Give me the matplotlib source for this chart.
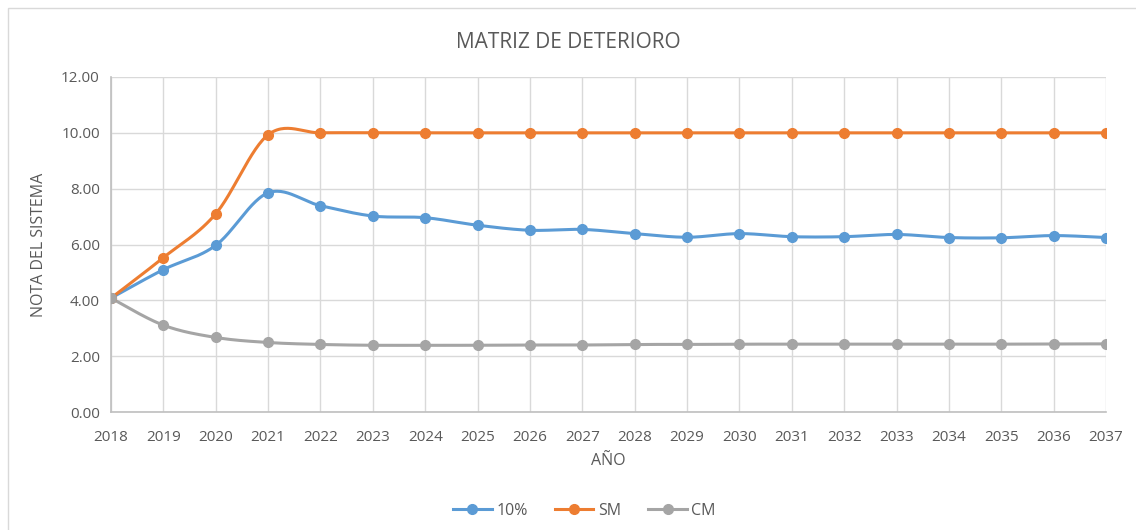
import matplotlib.pyplot as plt
import numpy as np
from matplotlib.patches import Rectangle

years = list(range(2018, 2038))
s_10 = [4.08, 5.10, 5.97, 7.85, 7.39, 7.02, 6.96, 6.69, 6.51, 6.54, 6.39, 6.26, 6.39,
        6.28, 6.28, 6.36, 6.25, 6.24, 6.32, 6.25]
s_sm = [4.08, 5.53, 7.10, 9.93, 10.0, 10.0, 10.0, 10.0, 10.0, 10.0, 10.0, 10.0, 10.0,
        10.0, 10.0, 10.0, 10.0, 10.0, 10.0, 10.0]
s_cm = [4.08, 3.11, 2.67, 2.49, 2.42, 2.39, 2.39, 2.39, 2.40, 2.40, 2.42, 2.42, 2.43,
        2.43, 2.43, 2.43, 2.43, 2.43, 2.44, 2.44]

names = ['10%', 'SM', 'CM']
colors = ['#5B9BD5', '#ED7D31', '#A5A5A5']


def smooth(x, y, n=30):
    # catmull-rom style bezier, close to excel's smoothed line
    x = np.asarray(x, float)
    y = np.asarray(y, float)
    px, py = [], []
    t = np.linspace(0, 1, n)
    for i in range(len(x) - 1):
        x0, y0 = (x[i - 1], y[i - 1]) if i > 0 else (x[i], y[i])
        x3, y3 = (x[i + 2], y[i + 2]) if i + 2 < len(x) else (x[i + 1], y[i + 1])
        c1x = x[i] + (x[i + 1] - x0) / 6
        c1y = y[i] + (y[i + 1] - y0) / 6
        c2x = x[i + 1] - (x3 - x[i]) / 6
        c2y = y[i + 1] - (y3 - y[i]) / 6
        bx = (1-t)**3*x[i] + 3*(1-t)**2*t*c1x + 3*(1-t)*t**2*c2x + t**3*x[i+1]
        by = (1-t)**3*y[i] + 3*(1-t)**2*t*c1y + 3*(1-t)*t**2*c2y + t**3*y[i+1]
        px.extend(bx)
        py.extend(by)
    return px, py


plt.rcParams['font.family'] = ['Open Sans', 'DejaVu Sans']

fig = plt.figure(figsize=(11.36, 5.30), dpi=100)
ax = fig.add_axes([111/1136, 1-412/530, (1106-111)/1136, (412-77)/530])

fig.patches.append(Rectangle((8/1136, -0.1), 1.2, 1-8/530+0.1, transform=fig.transFigure,
                             fill=False, edgecolor='#D9D9D9', lw=1))

for s, name, c in zip([s_10, s_sm, s_cm], names, colors):
    sx, sy = smooth(years, s)
    ax.plot(sx, sy, color=c, lw=2.2, zorder=3)
    ax.plot(years, s, 'o', color=c, ms=7, zorder=4)
    ax.plot([], [], color=c, lw=2.2, marker='o', ms=7, label=name)

ax.set_xlim(2018, 2037)
ax.set_ylim(0, 12)
ax.set_xticks(years)
ax.set_yticks(np.arange(0, 13, 2))
ax.set_yticklabels(['%.2f' % v for v in np.arange(0, 13, 2)])
ax.grid(True, color='#D9D9D9', lw=1)
ax.set_axisbelow(True)
for sp in ['top', 'right']:
    ax.spines[sp].set_visible(False)
for sp in ['left', 'bottom']:
    ax.spines[sp].set_color('#BFBFBF')
    ax.spines[sp].set_linewidth(1.2)
ax.tick_params(length=0, labelsize=11, colors='#595959', pad=8)
ax.tick_params(axis='x', pad=13)

ax.set_xlabel('AÑO', fontsize=11.5, color='#595959', labelpad=6)
ax.set_ylabel('NOTA DEL SISTEMA', fontsize=11.5, color='#595959', labelpad=10)
fig.text(0.5, 1-42/530, 'MATRIZ DE DETERIORO', ha='center', va='center',
         fontsize=15, color='#595959')

ax.legend(loc='center', bbox_to_anchor=(0.476, -0.295), ncol=3, frameon=False,
          fontsize=11.5, labelcolor='#595959', handlelength=2.4, columnspacing=1.7,
          handletextpad=0.3)

fig.savefig('out.png', dpi=100)
